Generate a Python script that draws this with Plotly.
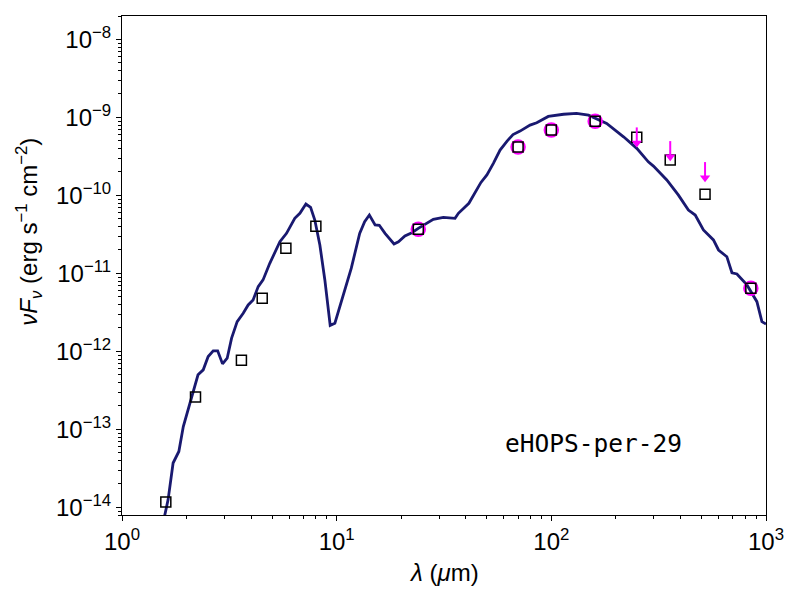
import numpy as np
import plotly.graph_objects as go

# model SED
model_wave = [1.53, 1.64, 1.73, 1.84, 1.93, 2.07, 2.26, 2.39, 2.52, 2.66, 2.79, 2.94,
              3.09, 3.24, 3.44, 3.67, 3.87, 4.08, 4.31, 4.54, 4.88, 5.44, 5.84, 6.38,
              6.74, 7.19, 7.56, 7.91, 8.35, 8.81, 9.33, 9.81, 10.7, 11.7, 12.8, 13.5,
              14.2, 15.1, 15.8, 16.8, 18.5, 19.4, 20.8, 22.4, 24.0, 28.2, 31.4, 35.6,
              36.9, 41.3, 47.0, 50.1, 53.7, 57.7, 62.2, 66.3, 71.5, 79.6, 85.5, 96.8,
              114, 131, 149, 160, 181, 217, 250, 283, 299, 345, 391, 435, 468, 511,
              569, 601, 657, 694, 732, 815, 875, 907, 957, 1000]
model_flux = [5.2e-15, 1.26e-14, 3.71e-14, 5.22e-14, 1.09e-13, 2.18e-13, 5.01e-13, 5.81e-13,
              8.59e-13, 1.02e-12, 1.02e-12, 6.93e-13, 8.2e-13, 1.48e-12, 2.41e-12, 3.09e-12,
              3.95e-12, 4.58e-12, 6.78e-12, 8.26e-12, 1.35e-11, 2.55e-11, 3.27e-11, 5.09e-11,
              5.9e-11, 7.77e-11, 7.05e-11, 4.84e-11, 2.32e-11, 8.26e-12, 2.16e-12, 2.3e-12,
              5.05e-12, 1.17e-11, 3.27e-11, 4.61e-11, 5.61e-11, 4.18e-11, 4.15e-11, 3.27e-11,
              2.39e-11, 2.55e-11, 3.02e-11, 3.33e-11, 3.79e-11, 4.94e-11, 5.25e-11, 5.09e-11,
              5.9e-11, 7.93e-11, 1.47e-10, 1.83e-10, 2.58e-10, 3.82e-10, 4.98e-10, 6.04e-10,
              6.69e-10, 7.98e-10, 8.55e-10, 1.03e-09, 1.1e-09, 1.13e-09, 1.07e-09, 9.73e-10,
              8.39e-10, 5.65e-10, 4.02e-10, 2.7e-10, 2.38e-10, 1.58e-10, 1.01e-10, 6.5e-11,
              5.61e-11, 3.61e-11, 2.69e-11, 2.0e-11, 1.64e-11, 1.02e-11, 9.86e-12, 7.13e-12,
              5.05e-12, 4.35e-12, 2.41e-12, 2.25e-12]

# photometry
phot_wave = [1.6, 2.2, 3.6, 4.5, 5.8, 8.0, 24, 70, 100, 160, 250, 358, 520, 850]
phot_flux = [1.17e-14, 2.6e-13, 7.7e-13, 4.8e-12, 2.1e-11, 4.03e-11, 3.68e-11,
             4.17e-10, 6.9e-10, 8.97e-10, 5.56e-10, 2.84e-10, 1.04e-10, 6.45e-12]

# points used in the fit
fit_wave = [24, 70, 100, 160, 850]
fit_flux = [3.68e-11, 4.17e-10, 6.9e-10, 8.97e-10, 6.45e-12]

# upper limits
ul_wave = [250, 358, 520]
ul_flux = [7.46e-10, 4.98e-10, 2.68e-10]

source_name = "eHOPS-per-29"

fig = go.Figure()

fig.add_trace(go.Scatter(x=model_wave, y=model_flux, mode="lines",
                         line=dict(color="#191970", width=2.8)))

fig.add_trace(go.Scatter(x=fit_wave, y=fit_flux, mode="markers",
                         marker=dict(symbol="circle-open", size=13, color="magenta",
                                     line=dict(width=2.5))))

fig.add_trace(go.Scatter(x=phot_wave, y=phot_flux, mode="markers",
                         marker=dict(symbol="square-open", size=10, color="black",
                                     line=dict(width=1.5))))

# arrows for the upper limits: shaft + head
head = 10 ** -0.2
ax_x, ax_y = [], []
for w, f in zip(ul_wave, ul_flux):
    ax_x += [w, w, None]
    ax_y += [f, f * head, None]
fig.add_trace(go.Scatter(x=ax_x, y=ax_y, mode="lines",
                         line=dict(color="magenta", width=2)))
fig.add_trace(go.Scatter(x=ul_wave, y=[f * head for f in ul_flux], mode="markers",
                         marker=dict(symbol="triangle-down", size=9, color="magenta",
                                     line=dict(width=0))))

fig.add_annotation(text=source_name, xref="paper", yref="paper", x=0.732, y=0.143,
                   xanchor="center", yanchor="middle", showarrow=False,
                   font=dict(family="DejaVu Sans Mono", size=24.5, color="black"))

font = dict(family="Liberation Sans, Arial", size=24, color="black")

# axis titles as annotations so the plot box stays put
fig.add_annotation(text="<i>λ</i> (<i>μ</i>m)", xref="paper", yref="paper",
                   x=0.5, y=-0.115, xanchor="center", yanchor="middle",
                   showarrow=False, font=font)
fig.add_annotation(text="<i>νF</i><sub><i>ν</i></sub> (erg s<sup>\u22121</sup> cm<sup>\u22122</sup>)",
                   xref="paper", yref="paper", x=-0.145, y=0.567, textangle=-90,
                   xanchor="center", yanchor="middle", showarrow=False, font=font)

xt = [1, 10, 100, 1000]
fig.update_xaxes(type="log", range=[0, 3], automargin=False,
                 tickmode="array", tickvals=xt,
                 ticktext=["10<sup>%d</sup>" % int(np.log10(v)) for v in xt],
                 ticks="outside", ticklen=5, tickwidth=1, tickcolor="black",
                 minor=dict(dtick="D1", ticks="outside", ticklen=3, tickcolor="black"),
                 showline=True, linecolor="black", linewidth=1, mirror=True,
                 showgrid=False, zeroline=False, tickfont=font)

yt = [1e-14, 1e-13, 1e-12, 1e-11, 1e-10, 1e-9, 1e-8]
fig.update_yaxes(type="log", range=[np.log10(8e-15), np.log10(2e-8)], automargin=False,
                 tickmode="array", tickvals=yt,
                 ticktext=["10<sup>\u2212%d</sup>" % -round(np.log10(v)) for v in yt],
                 ticks="outside", ticklen=5, tickwidth=1, tickcolor="black",
                 minor=dict(dtick="D1", ticks="outside", ticklen=3, tickcolor="black"),
                 showline=True, linecolor="black", linewidth=1, mirror=True,
                 showgrid=False, zeroline=False, tickfont=font)

# page body adds an 8px offset, so the figure is a bit smaller than the window
fig.update_layout(width=792, height=592, showlegend=False,
                  paper_bgcolor="white", plot_bgcolor="white",
                  margin=dict(l=114, r=34, t=8, b=85))

fig.write_html("out.html")
